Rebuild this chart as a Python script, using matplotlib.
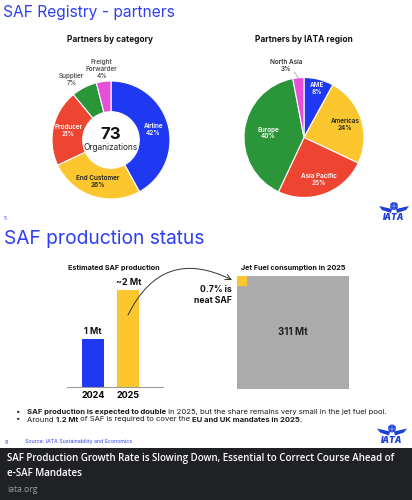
import numpy as np
import matplotlib
matplotlib.use('Agg')
import matplotlib.pyplot as plt
from matplotlib.patches import Rectangle, Circle, Polygon

plt.rcParams['font.family'] = ['Inter', 'DejaVu Sans']

# ---- data ----
cat_labels = ['Airline', 'End Customer', 'Producer', 'Supplier', 'Freight\nForwarder']
cat_pct = [42, 26, 21, 7, 4]
n_orgs = 73
region_labels = ['AME', 'Americas', 'Asia Pacific', 'Europe', 'North Asia']
region_pct = [8, 24, 25, 40, 3]
years = ['2024', '2025']
saf_mt = [1, 2]
saf_val_labels = ['1 Mt', '~2 Mt']
jet_fuel_mt = 311
neat_saf_share = 0.7  # percent

BLUE = '#1f38f2'
YELLOW = '#fcc72e'
RED = '#ee4532'
GREEN = '#2b9639'
PINK = '#e84fd8'
GREY = '#ababab'
TITLE_BLUE = '#2d3ff0'
LOGO_BLUE = '#1f3fd6'

W, H = 412, 500
fig = plt.figure(figsize=(W / 100, H / 100), dpi=100)


def px_axes(x0, y0, x1, y1):
    # box in pixels (origin top-left) -> figure axes
    return fig.add_axes([x0 / W, 1 - y1 / H, (x1 - x0) / W, (y1 - y0) / H])


# ---- donut: partners by category ----
ax1 = px_axes(52, 81, 170, 199)
ax1.pie(cat_pct, colors=[BLUE, YELLOW, RED, GREEN, PINK], startangle=90,
        counterclock=False, radius=1,
        wedgeprops=dict(width=0.52, edgecolor='white', linewidth=0.8, clip_on=False))
ax1.set_xlim(-1, 1); ax1.set_ylim(-1, 1)
cum = np.cumsum([0] + cat_pct[:-1])
outer_pos = {3: (-0.67, 1.03), 4: (-0.16, 1.2)}
for i, (lab, p, c0) in enumerate(zip(cat_labels, cat_pct, cum)):
    a = np.deg2rad(90 - (c0 + p / 2) * 3.6)
    if p > 10:
        px, py = 0.74 * np.cos(a), 0.74 * np.sin(a)
        col = '#222222' if i == 1 else 'white'
    else:
        px, py = outer_pos[i]
        col = '#555555'
    ax1.text(px, py, f'{lab}\n{p}%', ha='center', va='center',
             fontsize=4.6, fontweight='semibold', color=col, linespacing=1.15)
ax1.text(0, 0.1, str(n_orgs), ha='center', va='center', fontsize=12, fontweight='bold', color='#111111')
ax1.text(0, -0.12, 'Organizations', ha='center', va='center', fontsize=6, color='#222222')

# ---- pie: partners by IATA region ----
ax2 = px_axes(244, 77.5, 364, 197.5)
ax2.pie(region_pct, colors=[BLUE, YELLOW, RED, GREEN, PINK], startangle=90,
        counterclock=False, radius=1,
        wedgeprops=dict(edgecolor='white', linewidth=0.8, clip_on=False))
ax2.set_xlim(-1, 1); ax2.set_ylim(-1, 1)
cum = np.cumsum([0] + region_pct[:-1])
rr = [0.84, 0.72, 0.74, 0.6]
for i, (lab, p, c0) in enumerate(zip(region_labels, region_pct, cum)):
    a = np.deg2rad(90 - (c0 + p / 2) * 3.6)
    if i < 4:
        col = '#222222' if i == 1 else 'white'
        ax2.text(rr[i] * np.cos(a), rr[i] * np.sin(a), f'{lab}\n{p}%', ha='center', va='center',
                 fontsize=4.6, fontweight='semibold', color=col, linespacing=1.15)
    else:
        ax2.text(-0.3, 1.2, f'{lab}\n{p}%', ha='center', va='center',
                 fontsize=4.6, fontweight='semibold', color='#333333', linespacing=1.15)
        ax2.plot([-0.16, 0.99 * np.cos(a)], [1.09, 0.99 * np.sin(a)], color='#999999', lw=0.5, clip_on=False)

# ---- bars: estimated SAF production ----
ax3 = px_axes(67, 277, 163, 387)
x = np.arange(len(years))
ax3.bar(x, saf_mt, width=0.62, color=[BLUE, YELLOW])
ax3.set_xlim(-0.732, 1.972)
ax3.set_ylim(0, 110 / 48.5)
for xi, v, lab in zip(x, saf_mt, saf_val_labels):
    ax3.text(xi, v + 0.06, lab, ha='center', va='bottom', fontsize=6.5, fontweight='bold', color='#111111')
ax3.set_xticks(x, years)
ax3.tick_params(axis='x', length=0, pad=3, labelsize=6.5)
for t in ax3.get_xticklabels():
    t.set_fontweight('bold')
ax3.set_yticks([])
for s in ['top', 'right', 'left']:
    ax3.spines[s].set_visible(False)
ax3.spines['bottom'].set_color('#9a9a9a')
ax3.spines['bottom'].set_linewidth(0.8)
ax3.patch.set_alpha(0)

# ---- square: jet fuel consumption ----
ax4 = px_axes(236.7, 276, 349.3, 388.6)
side = np.sqrt(jet_fuel_mt)
s = np.sqrt(jet_fuel_mt * neat_saf_share / 100)
ax4.add_patch(Rectangle((0, 0), side, side, color=GREY))
ax4.add_patch(Rectangle((0, side - s), s, s, color=YELLOW))
ax4.set_xlim(0, side); ax4.set_ylim(0, side)
ax4.axis('off')
ax4.text(side / 2, side / 2, f'{jet_fuel_mt} Mt', ha='center', va='center', fontsize=7, fontweight='bold', color='#222222')

# ---- overlay for slide text ----
ov = fig.add_axes([0, 0, 1, 1])
ov.set_xlim(0, W); ov.set_ylim(H, 0)
ov.axis('off')
ov.patch.set_alpha(0)

ov.text(3, 13, 'SAF Registry - partners', fontsize=11.2, color=TITLE_BLUE, va='center', ha='left')
ov.text(110, 40, 'Partners by category', fontsize=6, fontweight='bold', color='#111111', ha='center', va='center')
ov.text(304, 40, 'Partners by IATA region', fontsize=6, fontweight='bold', color='#111111', ha='center', va='center')

ov.text(4, 219, '5', fontsize=3.5, color=TITLE_BLUE, ha='left', va='center')
ov.text(4, 238.5, 'SAF production status', fontsize=13.8, color=TITLE_BLUE, va='center', ha='left')
ov.text(114, 268, 'Estimated SAF production', fontsize=5.2, fontweight='bold', color='#111111', ha='center', va='center')
ov.text(293, 268, 'Jet Fuel consumption in 2025', fontsize=5.2, fontweight='bold', color='#111111', ha='center', va='center')
ov.text(232, 295, f'{neat_saf_share}% is\nneat SAF', fontsize=6.2, fontweight='bold', color='#111111',
        ha='right', va='center', linespacing=1.3)
ov.annotate('', xy=(232, 280), xytext=(128, 315),
            arrowprops=dict(arrowstyle='->', color='#333333', lw=0.7,
                            connectionstyle='arc3,rad=-0.5', shrinkA=0, shrinkB=0))

renderer = fig.canvas.get_renderer()


def text_w(s, **kw):
    t1 = ov.text(0, 0, s + '|', **kw)
    t2 = ov.text(0, 0, '|', **kw)
    w = t1.get_window_extent(renderer).width - t2.get_window_extent(renderer).width
    t1.remove(); t2.remove()
    return w


def rich(x, y, parts, size):
    for s, bold in parts:
        kw = dict(fontsize=size, fontweight='bold' if bold else 'normal', color='#1a1a1a')
        ov.text(x, y, s, ha='left', va='center', **kw)
        x += text_w(s, **kw)


ov.text(18, 412, '\u2022', fontsize=5.5, color='#1a1a1a', ha='center', va='center')
ov.text(18, 419.5, '\u2022', fontsize=5.5, color='#1a1a1a', ha='center', va='center')
rich(27, 412, [('SAF production is expected to double', True),
               (' in 2025, but the share remains very small in the jet fuel pool.', False)], 5.5)
rich(27, 419.5, [('Around ', False), ('1.2 Mt', True), (' of SAF is required to cover the ', False),
                 ('EU and UK mandates in 2025.', True)], 5.5)

ov.text(5, 442, '8', fontsize=3.8, color=TITLE_BLUE, ha='left', va='center')
ov.text(25, 442, 'Source: IATA Sustainability and Economics', fontsize=3.8, color=TITLE_BLUE, ha='left', va='center')


def iata_logo(cx, cy):
    ov.add_patch(Polygon([(cx - 2, cy + 2), (cx - 15, cy - 1), (cx - 12, cy + 3), (cx - 3, cy + 6)],
                         closed=True, color=LOGO_BLUE, lw=0))
    ov.add_patch(Polygon([(cx + 2, cy + 2), (cx + 15, cy - 1), (cx + 12, cy + 3), (cx + 3, cy + 6)],
                         closed=True, color=LOGO_BLUE, lw=0))
    ov.add_patch(Circle((cx, cy - 1), 4, color=LOGO_BLUE, lw=0))
    ov.plot([cx - 4, cx + 4], [cy - 1, cy - 1], color='white', lw=0.3)
    ov.plot([cx, cx], [cy - 5, cy + 3], color='white', lw=0.3)
    ov.text(cx, cy + 11, 'IATA', ha='center', va='center', fontsize=6, fontweight='black',
            style='italic', color=LOGO_BLUE)


iata_logo(394, 207)
iata_logo(392, 429.5)

# ---- dark caption band ----
foot = ['Open Sans', 'DejaVu Sans']
ov.add_patch(Rectangle((0, 448), W, H - 448, color='#202124', lw=0))
ov.text(7, 459, 'SAF Production Growth Rate is Slowing Down, Essential to Correct Course Ahead of',
        fontsize=7, fontweight='semibold', color='white', ha='left', va='center', family=foot)
ov.text(7, 474, 'e-SAF Mandates', fontsize=7, fontweight='semibold', color='white', ha='left', va='center',
        family=foot)
ov.text(7, 489, 'iata.org', fontsize=6.2, color='#9aa0a6', ha='left', va='center', family=foot)

fig.savefig('out.png', dpi=100, facecolor='white')
